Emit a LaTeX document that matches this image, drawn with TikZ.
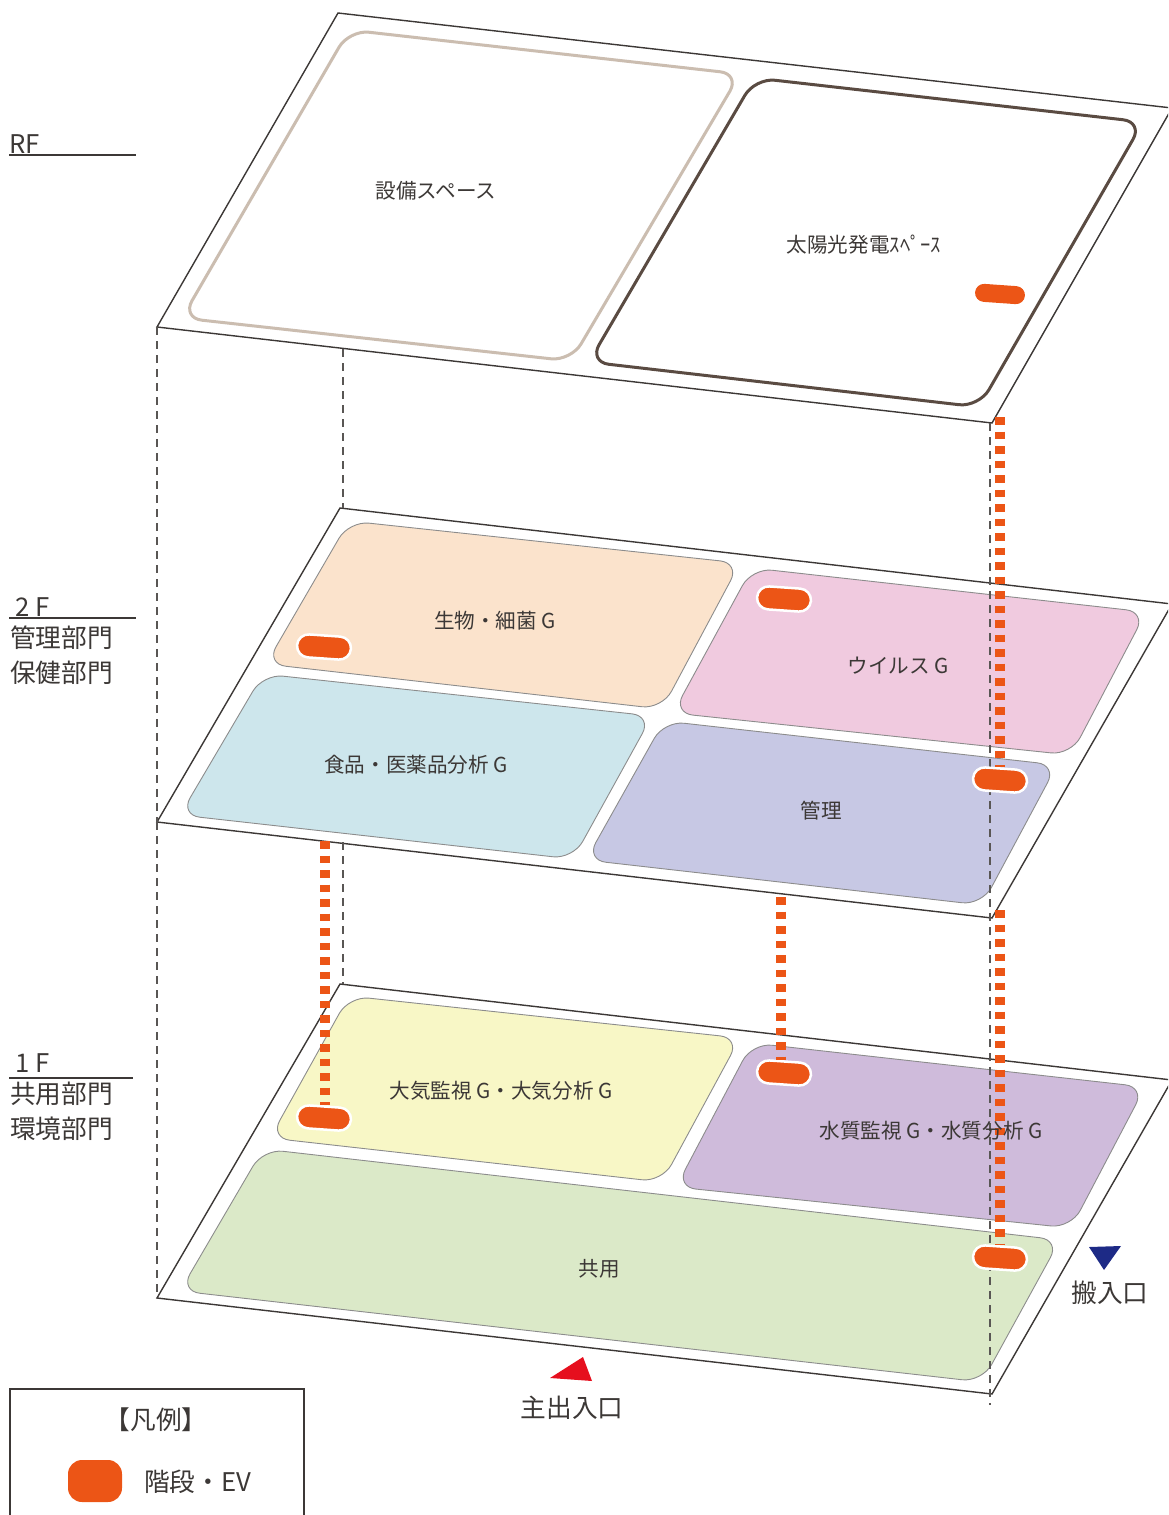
\documentclass[tikz,border=0pt]{standalone}
\usepackage{fontspec}
\usetikzlibrary{positioning}
\setmainfont{Noto Sans CJK JP}
\definecolor{stairs}{HTML}{EC5516}
\definecolor{ink}{HTML}{3C3836}
\definecolor{peach}{HTML}{FBE3CC}
\definecolor{pink}{HTML}{F0CADF}
\definecolor{paleblue}{HTML}{CDE6EC}
\definecolor{lavender}{HTML}{C7C8E4}
\definecolor{paleyellow}{HTML}{F8F7C6}
\definecolor{mauve}{HTML}{CFBBDB}
\definecolor{palegreen}{HTML}{DBE9C8}
\definecolor{tan}{HTML}{CBBDB0}
\definecolor{umber}{HTML}{5A4B42}
\definecolor{entryred}{HTML}{E60F1E}
\definecolor{entryblue}{HTML}{1D2A86}

\begin{document}
\begin{tikzpicture}[x=1pt,y=-1pt]
  \tikzset{
    floorplate/.style={draw=ink, line width=1.4pt, fill=white, line join=miter},
    panel/.style={draw=black!45, line width=0.9pt, rounded corners=20pt},
    zone/.style={panel, fill=none, line width=3pt},
    guide/.style={draw=ink!85, line width=1.2pt, dash pattern=on 8pt off 6pt},
    riser/.style={draw=stairs, line width=10pt, dash pattern=on 7.5pt off 7pt},
    stairnode/.style={fill=stairs, rounded corners=9pt, minimum width=50pt, minimum height=18pt, inner sep=0pt, rotate=-4},
    ringed/.style={stairnode, draw=white, line width=2.5pt, minimum width=54pt, minimum height=23pt, rounded corners=11.5pt},
    label/.style={text=ink, font=\fontsize{20.6}{24}\selectfont, inner sep=0pt},
    biglabel/.style={text=ink, font=\fontsize{25.7}{30}\selectfont, inner sep=0pt},
    levelrule/.style={draw=ink, line width=1.4pt}
  }

  \useasboundingbox (0,0) rectangle (1168,1515);
  \clip (0,0) rectangle (1168,1515);

  % floor plates
  \draw[floorplate] (338,13) -- (1172,108) -- (992,423) coordinate (rfright) -- (157,327) coordinate (rfleft) -- cycle;
  \draw[floorplate] (340,508) coordinate (twoback) -- (1172,604) -- (992,918) -- (157,822) coordinate (twoleft) -- cycle;
  \draw[floorplate] (340,984) coordinate (oneback) -- (1172,1080) -- (992,1394) -- (157,1298) coordinate (oneleft) -- cycle;

  % roof
  \draw[zone, draw=tan] (349,30) -- (740,74) -- (571,361) -- (182,318) -- cycle;
  \draw[zone, draw=umber] (755,78) -- (1143,122) -- (979,407) -- (589,362) -- cycle;

  % second floor
  \draw[panel, fill=peach] (349,521) -- (740,563) -- (662,709) -- (266,664) -- cycle;
  \draw[panel, fill=pink] (752,568) -- (1146,612) -- (1071,755) -- (673,713) -- cycle;
  \draw[panel, fill=paleblue] (263,674) -- (652,716) -- (573,859) -- (180,815) -- cycle;
  \draw[panel, fill=lavender] (664,721) -- (1057,765) -- (982,905) -- (586,860) -- cycle;

  % first floor
  \draw[panel, fill=paleyellow] (349,996) -- (740,1038) -- (662,1182) -- (270,1138) -- cycle;
  \draw[panel, fill=mauve] (752,1043) -- (1145,1087) -- (1071,1228) -- (676,1187) -- cycle;
  \draw[panel, fill=palegreen] (263,1149) -- (1060,1240) -- (982,1382) -- (180,1291) -- cycle;

  % free ends of the guides and risers
  \coordinate (guidetop) at (343,349);
  \coordinate (guidemid) at (343,842);
  \coordinate (guideback) at (343,984);
  \coordinate (guiderighttop) at (990,423);
  \coordinate (guiderightend) at (990,1405);
  \coordinate (riserroof) at (1000,417);
  \coordinate (risertwo) at (1000,910);
  \coordinate (risermid) at (781,897);
  \coordinate (riserleft) at (325,841);

  \draw[guide] (rfleft) -- (twoleft);
  \draw[guide] (twoleft) -- (oneleft);
  \draw[guide] (guidetop) -- (guidetop |- twoback);
  \draw[guide] (guidemid) -- (guideback);
  \draw[guide] (guiderighttop) -- (guiderightend);

  % stairs
  \node[stairnode] (roofstair) at (1000,294) {};
  \node[ringed] (twoleftstair) at (324,647) {};
  \node[ringed] (twomidstair) at (784,599) {};
  \node[ringed] (tworightstair) at (1000,780) {};
  \node[ringed] (oneleftstair) at (324,1118) {};
  \node[ringed] (onemidstair) at (784,1073) {};
  \node[ringed] (onerightstair) at (1000,1258) {};

  \draw[riser] (riserroof) -- (riserroof |- tworightstair.north);
  \draw[riser] (risertwo) -- (risertwo |- onerightstair.north);
  \draw[riser] (risermid) -- (risermid |- onemidstair.north);
  \draw[riser] (riserleft) -- (riserleft |- oneleftstair.north);

  % room names
  \node[label] (plant) at (436,191) {設備スペース};
  \node[label] (solar) at (864,245) {太陽光発電ｽﾍﾟｰｽ};
  \node[label] (biology) at (495,621) {生物・細菌 G};
  \node[label] (virus) at (898,666) {ウイルス G};
  \node[label] (food) at (416,765) {食品・医薬品分析 G};
  \node[label] (admin) at (821,811) {管理};
  \node[label] (air) at (501,1091) {大気監視 G・大気分析 G};
  \node[label] (water) at (931,1131) {水質監視 G・水質分析 G};
  \node[label] (common) at (599,1269) {共用};

  % level names
  \node[biglabel, anchor=base west] (rflabel) at (9,153) {RF};
  \draw[levelrule] (9,155) -- (136,155);
  \node[biglabel, anchor=base west] (twolabel) at (15,616) {2 F};
  \draw[levelrule] (9,618) -- (136,618);
  \node[biglabel, anchor=west] (twodeptA) at (10,638) {管理部門};
  \node[biglabel, below=11pt of twodeptA] (twodeptB) {保健部門};
  \node[biglabel, anchor=base west] (onelabel) at (15,1072) {1 F};
  \draw[levelrule] (9,1078) -- (133,1078);
  \node[biglabel, anchor=west] (onedeptA) at (10,1094) {共用部門};
  \node[biglabel, below=11pt of onedeptA] (onedeptB) {環境部門};

  % entrances
  \fill[entryred] (550,1378) -- (583,1357) -- (592,1381) -- cycle;
  \node[biglabel] (mainentry) at (572,1408) {主出入口};
  \fill[entryblue] (1089,1247) -- (1121,1246) -- (1104,1270) -- cycle;
  \node[biglabel] (goodsentry) at (1110,1293) {搬入口};

  % legend
  \draw[ink, line width=1.4pt] (10,1389) rectangle (304,1540);
  \node[biglabel] (legendtitle) at (156,1420) {【凡例】};
  \node[fill=stairs, rounded corners=14pt, minimum width=54pt, minimum height=42pt, inner sep=0pt] (legendstair) at (95,1481) {};
  \node[biglabel, anchor=west] (legendtext) at (144,1482) {階段・EV};
\end{tikzpicture}
\end{document}
